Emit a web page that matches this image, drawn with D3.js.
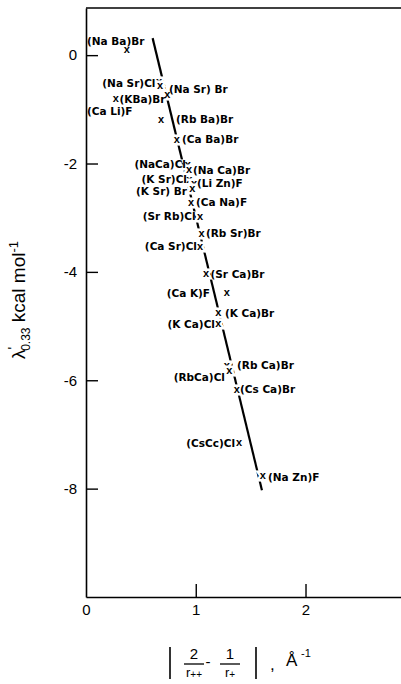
<!DOCTYPE html>
<html><head><meta charset="utf-8">
<script src="https://cdn.jsdelivr.net/npm/d3@7"></script>
<style>body{margin:0;background:#fff}svg{display:block}</style>
</head><body>
<script>
// marker positions: x = |2/r++ - 1/r+| (Å^-1), y = λ'0.33 (kcal/mol)
const pointX = [0.371,0.665,0.674,0.741,0.271,0.683,0.827,0.927,0.939,0.942,0.984,0.969,0.957,1.039,1.054,1.039,1.093,1.282,1.205,1.205,1.282,1.306,1.373,1.394,1.610];
const pointY = [0.107,-0.491,-0.570,-0.736,-0.810,-1.185,-1.554,-2.029,-2.121,-2.306,-2.366,-2.471,-2.716,-2.982,-3.288,-3.532,-4.040,-4.385,-4.754,-4.949,-5.737,-5.824,-6.167,-7.145,-7.767];
// annotation labels (data coordinates of label anchor)
const labelText = ["(Na Ba)Br","(Na Sr)Cl","(Na Sr) Br","(KBa)Br","(Ca Li)F","(Rb Ba)Br","(Ca Ba)Br","(NaCa)Cl","(Na Ca)Br","(K Sr)Cl","(Li Zn)F","(K Sr) Br","(Ca Na)F","(Sr Rb)Cl","(Rb Sr)Br","(Ca Sr)Cl","(Sr Ca)Br","(Ca K)F","(K Ca)Br","(K Ca)Cl","(Rb Ca)Br","(RbCa)Cl","(Cs Ca)Br","(CsCc)Cl","(Na Zn)F"];
const labelX = [0.009,0.633,0.756,0.305,0.009,0.820,0.875,0.911,0.975,0.920,1.011,0.920,1.002,0.998,1.093,1.011,1.134,1.130,1.266,1.175,1.376,1.266,1.403,1.358,1.658];
const labelY = [0.260,-0.509,-0.626,-0.810,-1.032,-1.185,-1.554,-2.010,-2.130,-2.286,-2.366,-2.508,-2.720,-2.978,-3.283,-3.532,-4.040,-4.400,-4.765,-4.962,-5.719,-5.940,-6.167,-7.158,-7.785];
const labelSide = ["start","end","start","start","start","start","start","end","start","end","start","end","start","end","start","end","start","end","start","end","start","end","start","end","start"];
// fitted line end points
const lineX = [0.607, 1.603];
const lineY = [0.314, -8.03];
const yTicks = [0,-2,-4,-6,-8];
const xTicks = [0,1,2];

const W = 401, H = 684;
const svg = d3.select("body").append("svg").attr("width",W).attr("height",H);
const x = d3.scaleLinear().domain([0,2.87]).range([86,401]);
const y = d3.scaleLinear().domain([-10,0.87]).range([597,8]);
const font = "Liberation Sans, Arial, sans-serif";
const lfont = "DejaVu Sans, sans-serif";

// frame top
svg.append("line").attr("x1",x(0)).attr("x2",W).attr("y1",y(0.87)).attr("y2",y(0.87)).attr("stroke","#000").attr("stroke-width",1.5);

const ya = svg.append("g").attr("transform",`translate(${x(0)},0)`)
  .call(d3.axisLeft(y).tickValues(yTicks).tickSize(-12).tickSizeOuter(0).tickPadding(9).tickFormat(d=>d===0?"0":"-"+Math.abs(d)));
const xa = svg.append("g").attr("transform",`translate(0,${y(-10)})`)
  .call(d3.axisBottom(x).tickValues(xTicks).tickSize(-13).tickSizeOuter(0).tickPadding(3).tickFormat(d3.format("d")));
[ya,xa].forEach(g=>{
  g.select(".domain").attr("stroke","#000").attr("stroke-width",1.6);
  g.selectAll(".tick line").attr("stroke","#000").attr("stroke-width",1.4);
  g.selectAll(".tick text").attr("fill","#000").attr("font-family",font).attr("font-size",15);
});
xa.selectAll(".tick text").attr("dy","1em");
xa.selectAll(".tick").filter(d=>d===0).select("line").remove();

// fitted line
const lineData = lineX.map((v,i)=>[v,lineY[i]]);
svg.append("path").datum(lineData)
  .attr("d", d3.line().x(d=>x(d[0])).y(d=>y(d[1])))
  .attr("stroke","#000").attr("stroke-width",2.2).attr("fill","none");

// markers
svg.append("g").selectAll("text").data(pointX.map((v,i)=>[v,pointY[i]])).join("text")
  .attr("x",d=>x(d[0])).attr("y",d=>y(d[1])).attr("dy","0.3em")
  .attr("text-anchor","middle").attr("font-family",font).attr("font-size",11).attr("font-weight","bold")
  .attr("stroke","#fff").attr("stroke-width",5).attr("paint-order","stroke").attr("fill","#000")
  .text("x");

// labels
svg.append("g").selectAll("text").data(labelText.map((t,i)=>({t,x:labelX[i],y:labelY[i],a:labelSide[i]}))).join("text")
  .attr("x",d=>x(d.x)).attr("y",d=>y(d.y)).attr("dy","0.36em")
  .attr("text-anchor",d=>d.a).attr("font-family",lfont).attr("font-size",10.5).attr("font-weight","bold")
  .attr("fill","#000").text(d=>d.t);

// y axis title
const yt = svg.append("text").attr("transform","translate(25,300) rotate(-90)")
  .attr("text-anchor","middle").attr("font-family",font).attr("font-size",19).attr("fill","#000");
yt.append("tspan").text("λ");
yt.append("tspan").attr("dy",-7).attr("font-size",14).text("'");
yt.append("tspan").attr("dy",12).attr("dx",-4).attr("font-size",12).text("0.33");
yt.append("tspan").attr("dy",-5).text(" kcal mol");
yt.append("tspan").attr("dy",-7).attr("font-size",13).text("-1");

// x axis title
const xt = svg.append("g").attr("font-family",font).attr("fill","#000");
const bar = (px)=>xt.append("line").attr("x1",px).attr("x2",px).attr("y1",647).attr("y2",679).attr("stroke","#000").attr("stroke-width",1.6);
bar(170); bar(256);
const frac = (cx,num,sub)=>{
  xt.append("text").attr("x",cx).attr("y",659).attr("text-anchor","middle").attr("font-size",15).text(num);
  xt.append("line").attr("x1",cx-10).attr("x2",cx+10).attr("y1",664).attr("y2",664).attr("stroke","#000").attr("stroke-width",1.3);
  const t = xt.append("text").attr("x",cx).attr("y",677).attr("text-anchor","middle").attr("font-size",13);
  t.append("tspan").text("r");
  t.append("tspan").attr("font-size",10).attr("dy",1).text(sub);
};
frac(194,"2","++"); frac(230,"1","+");
xt.append("text").attr("x",208).attr("y",667).attr("text-anchor","middle").attr("font-size",15).text("-");
xt.append("text").attr("x",270).attr("y",670).attr("font-size",17).text(",");
xt.append("text").attr("x",286).attr("y",666).attr("font-size",17).text("Å");
xt.append("text").attr("x",301).attr("y",657).attr("font-size",11).text("-1");
</script>
</body></html>
